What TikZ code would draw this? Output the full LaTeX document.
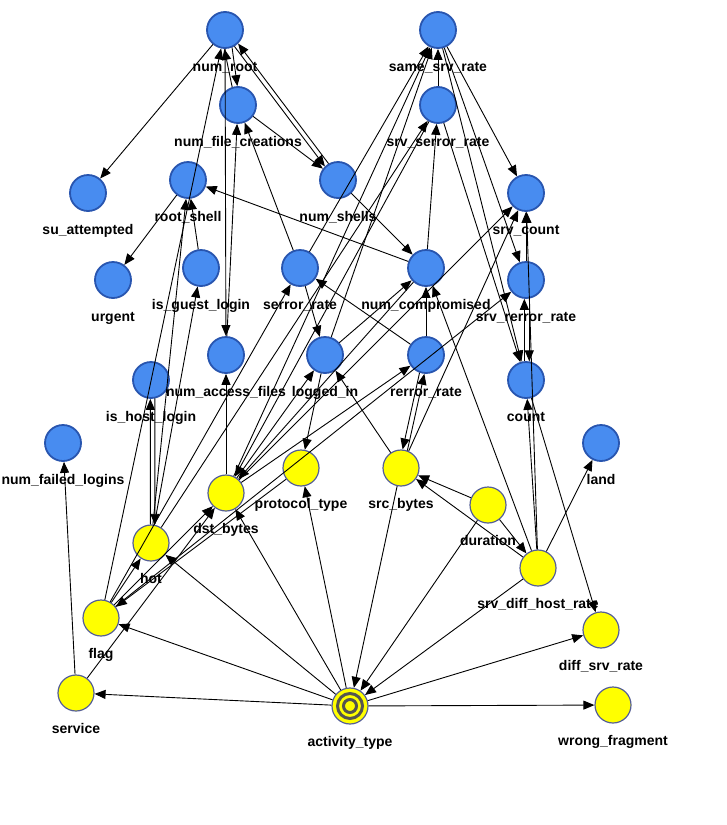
\documentclass[tikz,border=0pt]{standalone}
\usepackage{fontspec}
\setmainfont{Liberation Sans}
\usepackage{tikz}
\usetikzlibrary{arrows.meta}

\definecolor{varblue}{RGB}{72,140,240}
\definecolor{rimblue}{RGB}{40,85,175}
\definecolor{varyellow}{RGB}{255,255,0}
\definecolor{rimyellow}{RGB}{85,95,150}
\definecolor{ringgray}{RGB}{85,85,80}

\tikzset{
  var/.style={circle, minimum size=36pt, inner sep=0pt},
  bvar/.style={var, fill=varblue, draw=rimblue, line width=1.8pt},
  yvar/.style={var, fill=varyellow, draw=rimyellow, line width=1.2pt},
  every label/.style={font=\fontsize{14}{16}\selectfont\bfseries, inner sep=0pt, text height=10pt, text depth=3pt},
  label distance=12pt,
  arc/.style={-{Triangle[length=11pt,width=9pt]}, line width=0.9pt},
}

\begin{document}
\begin{tikzpicture}[x=1pt,y=-1pt]
\useasboundingbox (0,0) rectangle (726,825);
% Nodes
\node[bvar, label={below:num\_root}](nr) at (225,30){};
\node[bvar, label={below:num\_file\_creations}](nfc) at (238,105){};
\node[bvar, label={below:root\_shell}](rs) at (188,180){};
\node[bvar, label={below:su\_attempted}](sa) at (88,193){};
\node[bvar, label={below:num\_shells}](ns) at (338,180){};
\node[bvar, label={below:same\_srv\_rate}](ssr) at (438,30){};
\node[bvar, label={below:srv\_serror\_rate}](sser) at (438,105){};
\node[bvar, label={below:srv\_count}](sc) at (526,193){};
\node[bvar, label={below:urgent}](ur) at (113,280){};
\node[bvar, label={below:is\_guest\_login}](igl) at (201,268){};
\node[bvar, label={below:serror\_rate}](ser) at (300,268){};
\node[bvar, label={below:num\_compromised}](nc) at (426,268){};
\node[bvar, label={below:srv\_rerror\_rate}](srr) at (526,280){};
\node[bvar, label={below:num\_access\_files}](naf) at (226,355){};
\node[bvar, label={below:logged\_in}](li) at (325,355){};
\node[bvar, label={below:rerror\_rate}](rr) at (426,355){};
\node[bvar, label={below:count}](cnt) at (526,380){};
\node[bvar, label={below:is\_host\_login}](ihl) at (151,380){};
\node[bvar, label={below:num\_failed\_logins}](nfl) at (63,443){};
\node[bvar, label={below:land}](land) at (601,443){};
\node[yvar, label={below:protocol\_type}](pt) at (301,468){};
\node[yvar, label={below:src\_bytes}](sb) at (401,468){};
\node[yvar, label={below:dst\_bytes}](db) at (226,493){};
\node[yvar, label={below:duration}](dur) at (488,505){};
\node[yvar, label={below:hot}](hot) at (151,543){};
\node[yvar, label={below:srv\_diff\_host\_rate}](sdhr) at (538,568){};
\node[yvar, label={below:flag}](fl) at (101,618){};
\node[yvar, label={below:diff\_srv\_rate}](dsr) at (601,630){};
\node[yvar, label={below:service}](svc) at (76,693){};
\node[yvar, label={below:activity\_type}](at) at (350,706){};
\node[yvar, label={below:wrong\_fragment}](wf) at (613,705){};
\draw[ringgray, line width=3pt] (at.center) circle[radius=12.5pt];
\draw[ringgray, line width=3pt] (at.center) circle[radius=6.5pt];
% Arcs
\draw[arc] (nr) -- (sa);
\draw[arc] (rs) -- (ur);
\draw[arc] (nr.292) -- (nfc.92);
\draw[arc] (nfc.108) -- (nr.268);
\draw[arc] (fl) -- (nr);
\draw[arc] (nr.300) -- (ns.134);
\draw[arc] (ns.120) -- (nr.314);
\draw[arc] (nfc) -- (ns);
\draw[arc] (nr) -- (naf);
\draw[arc] (naf) -- (nfc);
\draw[arc] (ser) -- (nfc);
\draw[arc] (nc) -- (rs);
\draw[arc] (hot) -- (rs);
\draw[arc] (igl) -- (rs);
\draw[arc] (hot) -- (igl);
\draw[arc] (hot.92) -- (ihl.268);
\draw[arc] (ihl.282) -- (hot.78);
\draw[arc] (db) -- (naf);
\draw[arc] (svc) -- (nfl);
\draw[arc] (rr) -- (ser);
\draw[arc] (fl) -- (ser);
\draw[arc] (ser) -- (li);
\draw[arc] (ser) -- (ssr);
\draw[arc] (li) -- (pt);
\draw[arc] (db) -- (li);
\draw[arc] (sb) -- (li);
\draw[arc] (rr.250) -- (sb.85);
\draw[arc] (sb.70) -- (rr.265);
\draw[arc] (db) -- (rr);
\draw[arc] (sb) -- (sc);
\draw[arc] (li) -- (nc);
\draw[arc] (rr) -- (nc);
\draw[arc] (sdhr) -- (nc);
\draw[arc] (ns) -- (nc);
\draw[arc] (nc) -- (sser);
\draw[arc] (sser) -- (ssr);
\draw[arc] (ssr) -- (sc);
\draw[arc] (ssr) -- (srr);
\draw[arc] (ssr) -- (cnt);
\draw[arc] (sser) -- (cnt);
\draw[arc] (srr) -- (sc);
\draw[arc] (cnt.95) -- (srr.265);
\draw[arc] (srr.280) -- (cnt.80);
\draw[arc] (sdhr) -- (cnt);
\draw[arc] (sdhr) -- (sc);
\draw[arc] (fl) -- (srr);
\draw[arc] (db) -- (sc);
\draw[arc] (db) -- (ssr);
\draw[arc] (li) -- (ssr);
\draw[arc] (hot) -- (sser);
\draw[arc] (sser) -- (db);
\draw[arc] (nc) -- (db);
\draw[arc] (fl) -- (hot);
\draw[arc] (fl) -- (db);
\draw[arc] (svc) -- (db);
\draw[arc] (pt) -- (fl);
\draw[arc] (dur) -- (sb);
\draw[arc] (sdhr) -- (sb);
\draw[arc] (dur) -- (sdhr);
\draw[arc] (dur) -- (at);
\draw[arc] (sdhr) -- (land);
\draw[arc] (sdhr) -- (at);
\draw[arc] (sb) -- (at);
\draw[arc] (cnt) -- (dsr);
\draw[arc] (at) -- (svc);
\draw[arc] (at) -- (fl);
\draw[arc] (at) -- (hot);
\draw[arc] (at) -- (db);
\draw[arc] (at) -- (pt);
\draw[arc] (at) -- (dsr);
\draw[arc] (at) -- (wf);
\end{tikzpicture}
\end{document}
